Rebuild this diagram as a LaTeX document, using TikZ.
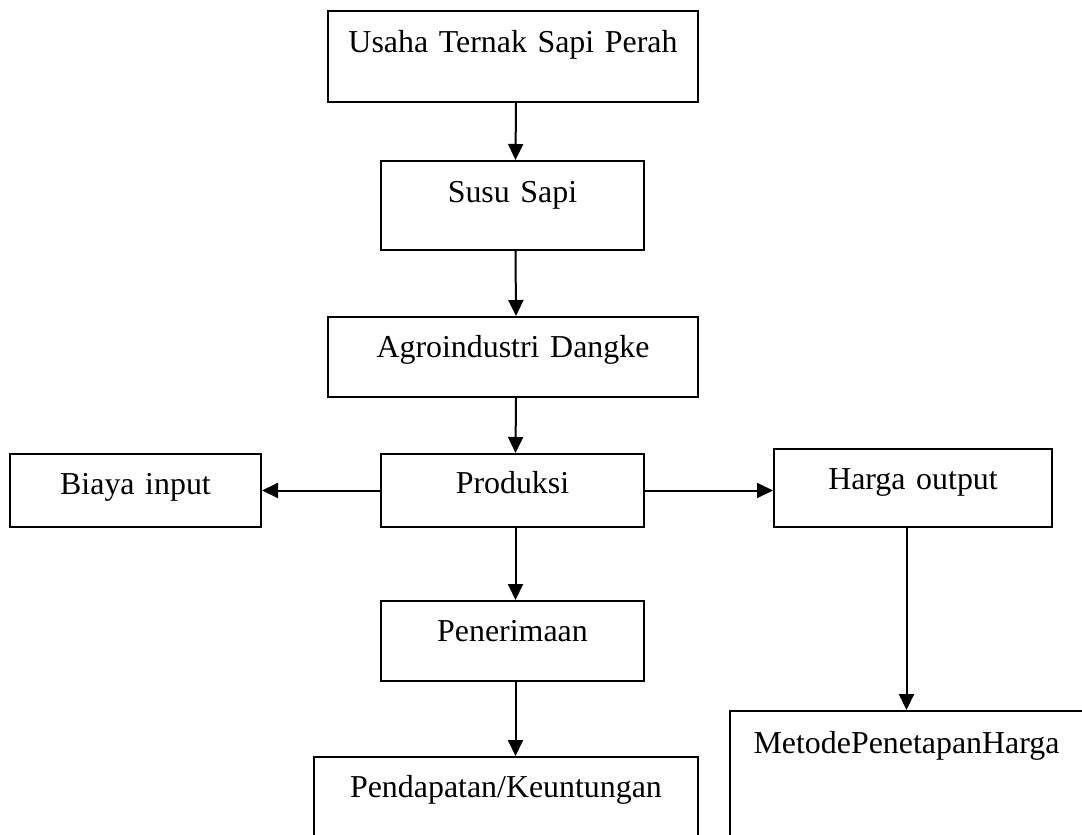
\documentclass[tikz,border=0pt]{standalone}
\usepackage{fontspec}
\setmainfont{Liberation Serif}
\usetikzlibrary{arrows.meta}
\tikzset{
  box/.style={draw, line width=2pt, inner sep=0pt, anchor=base, align=center,
    font=\fontsize{31.9}{38}\selectfont},
  arr/.style={line width=2pt, -{Triangle[length=16pt,width=15pt]}}
}
\begin{document}
\begin{tikzpicture}[x=1pt,y=-1pt]
\clip (0,0) rectangle (1082,835);
\fill[white] (0,0) rectangle (1082,835);
\node[box, text width=370pt, text height=41pt, text depth=50pt] (usaha) at (513,52) {Usaha Ternak Sapi Perah};
\node[box, text width=263pt, text height=41pt, text depth=48pt] (susu) at (512.5,202) {Susu Sapi};
\node[box, text width=370pt, text height=40pt, text depth=40pt] (agro) at (513,357) {Agroindustri Dangke};
\node[box, text width=263pt, text height=39pt, text depth=34pt] (prod) at (512.5,493) {Produksi};
\node[box, text width=251pt, text height=40pt, text depth=33pt] (biaya) at (135.5,494) {Biaya input};
\node[box, text width=278pt, text height=40pt, text depth=38pt] (harga) at (913,489) {Harga output};
\node[box, text width=263pt, text height=40pt, text depth=40pt] (pener) at (512.5,641) {Penerimaan};
\node[box, text width=384pt, text height=40pt, text depth=100pt] (penda) at (506,797) {Pendapatan/Keuntungan};
\node[box, text width=353pt, text height=42pt, text depth=100pt] (metode) at (906.5,753) {MetodePenetapanHarga};
\draw[arr] ([xshift=3pt]usaha.south) -- ([xshift=3pt]susu.north);
\draw[arr] ([xshift=3pt]susu.south) -- ([xshift=3pt]agro.north);
\draw[arr] ([xshift=3pt]agro.south) -- ([xshift=3pt]prod.north);
\draw[arr] ([xshift=3pt]prod.south) -- ([xshift=3pt]pener.north);
\draw[arr] ([xshift=3pt]pener.south) -- ([xshift=3pt]pener.south |- penda.north);
\draw[arr] (prod.west) -- (biaya.east);
\draw[arr] (prod.east) -- (prod.east -| harga.west);
\draw[arr] (harga.south -| metode.north) -- (metode.north);
\end{tikzpicture}
\end{document}
